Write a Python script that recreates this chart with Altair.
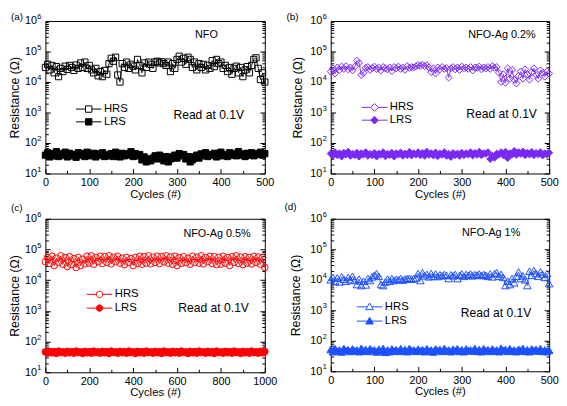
import altair as alt
import pandas as pd

FONT = "Liberation Sans"

# ---------------- data ----------------
cycles_500 = list(range(0, 501, 5))
cycles_1000 = list(range(0, 1001, 10))

hrs_a = [30000, 38000, 25000, 35000, 20000, 32000, 15000, 28000, 22000, 33000,
         26000, 35000, 30000, 24000, 36000, 28000, 42000, 30000, 45000, 28000,
         35000, 25000, 20000, 28000, 16000, 22000, 15000, 24000, 18000, 40000,
         60000, 48000, 65000, 17000, 10000, 40000, 30000, 45000, 28000, 38000,
         33000, 25000, 55000, 35000, 20000, 42000, 30000, 45000, 38000, 28000,
         45000, 48000, 42000, 46000, 40000, 35000, 45000, 22000, 40000, 28000,
         55000, 70000, 45000, 60000, 38000, 65000, 55000, 30000, 45000, 25000,
         40000, 30000, 38000, 25000, 35000, 28000, 50000, 32000, 55000, 40000,
         45000, 28000, 35000, 22000, 30000, 18000, 28000, 33000, 20000, 30000,
         15000, 25000, 32000, 20000, 35000, 55000, 62000, 28000, 12000, 20000,
         10000]
lrs_a = [40, 48, 35, 45, 38, 52, 36, 44, 40, 50,
         35, 46, 38, 42, 34, 48, 40, 45, 36, 50,
         42, 38, 46, 35, 44, 40, 48, 36, 42, 38,
         45, 36, 50, 40, 35, 46, 38, 44, 40, 52,
         36, 45, 38, 42, 28, 35, 24, 30, 26, 32,
         38, 30, 40, 34, 26, 36, 24, 30, 35, 40,
         32, 45, 38, 42, 30, 36, 24, 28, 35, 40,
         32, 44, 38, 48, 36, 42, 40, 46, 35, 44,
         50, 38, 42, 36, 48, 40, 45, 38, 52, 40,
         44, 36, 46, 40, 48, 38, 44, 42, 50, 40,
         45]

hrs_b = [22000, 28000, 19000, 30000, 25000, 32000, 27000, 33000, 26000, 30000,
         24000, 32000, 50000, 42000, 17000, 20000, 29000, 31000, 25000, 29000,
         32000, 27000, 30000, 24000, 31000, 28000, 26000, 30000, 23000, 31000,
         28000, 32000, 27000, 30000, 25000, 33000, 29000, 31000, 30000, 33000,
         36000, 34000, 37000, 33000, 35000, 30000, 21000, 28000, 19000, 30000,
         26000, 31000, 27000, 29000, 14000, 28000, 31000, 26000, 30000, 25000,
         32000, 28000, 30000, 27000, 31000, 24000, 30000, 29000, 32000, 26000,
         30000, 28000, 31000, 27000, 33000, 29000, 31000, 20000, 10000, 18000,
         9500, 28000, 13000, 25000, 12000, 9000, 16000, 22000, 13000, 26000,
         18000, 12000, 21000, 28000, 17000, 13000, 24000, 20000, 15000, 22000,
         19000]
lrs_b = [45, 38, 50, 40, 46, 36, 48, 42, 52, 38, 44, 40, 48, 36, 46, 42, 50, 38, 44, 40,
         47, 36, 45, 41, 50, 37, 44, 40, 48, 36, 46, 42, 49, 38, 45, 40, 51, 39, 46, 42,
         50, 40, 47, 38, 52, 41, 46, 39, 49, 37, 45, 41, 50, 38, 44, 35, 47, 40, 45, 38,
         48, 40, 46, 42, 50, 39, 47, 41, 52, 40, 46, 44, 50, 30, 38, 33, 45, 42, 50, 40,
         52, 32, 46, 42, 55, 41, 50, 44, 53, 40, 48, 42, 51, 40, 47, 43, 50, 39, 46, 42,
         48]

hrs_c = [40000, 55000, 35000, 60000, 30000, 52000, 38000, 62000, 33000, 55000,
         28000, 58000, 32000, 50000, 26000, 55000, 30000, 48000, 34000, 60000,
         36000, 62000, 33000, 55000, 40000, 60000, 35000, 58000, 38000, 62000,
         34000, 56000, 40000, 60000, 36000, 52000, 32000, 55000, 38000, 50000,
         30000, 55000, 35000, 60000, 33000, 58000, 36000, 62000, 34000, 56000,
         38000, 60000, 35000, 58000, 40000, 62000, 36000, 57000, 33000, 60000,
         30000, 55000, 35000, 58000, 37000, 52000, 33000, 60000, 38000, 56000,
         36000, 62000, 34000, 55000, 40000, 60000, 35000, 58000, 32000, 55000,
         33000, 60000, 36000, 55000, 30000, 58000, 38000, 62000, 35000, 56000,
         32000, 58000, 36000, 55000, 34000, 60000, 38000, 57000, 33000, 55000,
         26000]
lrs_c = [46, 42, 48, 43, 47, 41, 49, 44, 46, 42,
         48, 43, 47, 42, 49, 44, 46, 41, 48, 43,
         47, 42, 49, 44, 46, 42, 48, 43, 47, 41,
         49, 44, 46, 42, 48, 43, 47, 42, 49, 44,
         46, 41, 48, 43, 47, 42, 49, 44, 46, 42,
         48, 43, 47, 41, 49, 44, 46, 42, 48, 43,
         47, 42, 49, 44, 46, 41, 48, 43, 47, 42,
         49, 44, 46, 42, 48, 43, 47, 41, 49, 44,
         46, 42, 48, 43, 47, 42, 49, 44, 46, 41,
         48, 43, 47, 42, 49, 44, 46, 42, 48, 43,
         47]

hrs_d = [10000, 12000, 9000, 11500, 8500, 12500, 10500, 9000, 12000, 10000,
         13000, 9500, 7000, 10500, 6500, 9000, 6800, 11000, 9500, 12500,
         14000, 16000, 13000, 7000, 6500, 8500, 10500, 9000, 11000, 9500,
         10500, 10000, 11000, 9800, 10500, 10800, 11200, 10500, 11000, 11500,
         16000, 9500, 17000, 13500, 15000, 12500, 16000, 13000, 15500, 12800,
         14500, 13500, 15000, 14000, 11000, 14500, 13500, 15000, 11000, 14000,
         15500, 13000, 15000, 14000, 15500, 13500, 14800, 14200, 15500, 13800,
         15000, 14000, 13000, 15500, 12500, 16000, 17000, 13000, 15000, 12000,
         6500, 9000, 7000, 11000, 8000, 13000, 18000, 11000, 13500, 10000,
         6500, 19000, 14000, 20000, 16000, 13000, 18000, 15000, 12000, 16000,
         7500]
lrs_d = [52, 44, 55, 46, 50, 43, 56, 48, 51, 45,
         54, 47, 50, 44, 57, 46, 52, 45, 55, 48,
         50, 43, 53, 46, 56, 42, 50, 44, 54, 47,
         51, 45, 55, 46, 52, 44, 56, 48, 50, 45,
         53, 47, 51, 44, 55, 46, 50, 43, 54, 48,
         52, 45, 56, 46, 50, 44, 53, 47, 55, 45,
         51, 44, 54, 48, 50, 46, 56, 45, 52, 44,
         55, 47, 51, 45, 54, 46, 50, 44, 57, 48,
         52, 45, 55, 46, 50, 44, 53, 47, 56, 45,
         51, 44, 54, 48, 52, 46, 55, 45, 50, 44,
         49]

series_names = ["HRS", "LRS"]
panel_names = ["NFO", "NFO-Ag 0.2%", "NFO-Ag 0.5%", "NFO-Ag 1%"]
panel_tags = ["(a)", "(b)", "(c)", "(d)"]
read_note = "Read at 0.1V"
x_title = "Cycles (#)"
y_title = "Resistance (Ω)"
ticks_500 = [0, 100, 200, 300, 400, 500]
minor_500 = [50, 150, 250, 350, 450]
ticks_1000 = [0, 200, 400, 600, 800, 1000]
minor_1000 = [100, 300, 500, 700, 900]
decades = [1e1, 1e2, 1e3, 1e4, 1e5, 1e6]
minor_y = [m * d for d in [1e1, 1e2, 1e3, 1e4, 1e5] for m in range(2, 10)]

# legend symbols: line - marker - line
LEG_SQUARE = "M-2,0H-0.5M0.5,0H2M-0.5,-0.5H0.5V0.5H-0.5Z"
LEG_DIAMOND = "M-2,0H-0.6M0.6,0H2M0,-0.6L0.6,0L0,0.6L-0.6,0Z"
LEG_CIRCLE = "M-2,0H-0.5M0.5,0H2M-0.5,0A0.5,0.5,0,1,1,0.5,0A0.5,0.5,0,1,1,-0.5,0Z"
LEG_TRIANGLE = "M-2,0H-0.34M0.34,0H2M0,-0.6L0.6,0.45L-0.6,0.45Z"


def make_df(cycles, hrs, lrs):
    assert len(cycles) == len(hrs) == len(lrs)
    return pd.DataFrame({
        "cycle": list(cycles) + list(cycles),
        "value": list(hrs) + list(lrs),
        "series": [series_names[0]] * len(hrs) + [series_names[1]] * len(lrs),
    })


def tick_axis(orient, values, size):
    return alt.Axis(orient=orient, values=values, labels=False, domain=False,
                    grid=False, title=None, ticks=True,
                    tickSize={"expr": str(-size)}, tickColor="black", tickWidth=1)


def text_layer(txt, x, y, size, align="center"):
    return alt.Chart(alt.Data(values=[{}])).mark_text(
        text=txt, fontSize=size, font=FONT, align=align, baseline="middle",
        color="black").encode(x=alt.value(x), y=alt.value(y))


def make_panel(df, color, shape, msize, leg_path, xmax, xmajor, xminor,
               name, name_xy, read_xy, leg_xy, row_pad, tag, tag_xy,
               width, height, ytitle_pad):
    xs = alt.Scale(domain=[0, xmax], nice=False, zero=False)
    ys = alt.Scale(type="log", domain=[10, 1e6], nice=False)
    base = alt.Chart(df)

    def X(axis):
        return alt.X("cycle:Q", scale=xs, axis=axis)

    def Y(axis):
        return alt.Y("value:Q", scale=ys, axis=axis)

    lines = base.mark_line(color=color, strokeWidth=0.9).encode(
        x=X(alt.Axis(orient="bottom", values=xmajor, format="d", ticks=False,
                     domain=False, grid=False, labelFlush=False, labelOverlap=False,
                     labelPadding=3, labelFontSize=11, title=x_title,
                     titleFontSize=11.5, titleFontWeight="normal", titlePadding=1)),
        y=Y(alt.Axis(orient="left", values=decades, labelExpr="'10'", ticks=False,
                     domain=False, grid=False, labelFlush=False, labelOverlap=False,
                     labelPadding=9, labelFontSize=11, title=y_title,
                     titleFontSize=12.5, titleFontWeight="normal",
                     titlePadding=ytitle_pad)),
        detail="series:N",
    )
    points = base.mark_point(shape=shape, size=msize, filled=False, stroke=color,
                             strokeWidth=1, opacity=1).encode(
        x=X(tick_axis("bottom", xmajor, 5)),
        y=Y(tick_axis("left", decades, 5)),
        fill=alt.Fill("series:N",
                      scale=alt.Scale(domain=series_names, range=["transparent", color]),
                      legend=alt.Legend(title=None, orient="none",
                                        legendX=leg_xy[0], legendY=leg_xy[1],
                                        symbolType=leg_path, symbolSize=169,
                                        symbolStrokeWidth=1, symbolStrokeColor=color,
                                        labelFontSize=11.5, labelFont=FONT,
                                        labelColor="black", labelOffset=8.5,
                                        rowPadding=row_pad, padding=0)),
    )
    g1 = base.mark_point(opacity=0).encode(
        x=X(tick_axis("bottom", xminor, 3)), y=Y(tick_axis("left", minor_y, 3)))
    g2 = base.mark_point(opacity=0).encode(
        x=X(None), y=Y(tick_axis("right", decades, 5)))
    g3 = base.mark_point(opacity=0).encode(
        x=X(None), y=Y(tick_axis("right", minor_y, 3)))
    g4 = base.mark_point(opacity=0).encode(
        x=X(None),
        y=Y(alt.Axis(orient="left", values=decades,
                     labelExpr="'' + round(log(datum.value) / LN10)",
                     ticks=False, domain=False, grid=False, labelFlush=False,
                     labelOverlap=False, labelPadding=4.5, labelFontSize=7.5,
                     labelOffset=-4.5, title=None)))
    t1 = text_layer(name, name_xy[0], name_xy[1], 11)
    t2 = text_layer(read_note, read_xy[0], read_xy[1], 12.3)
    t3 = text_layer(tag, tag_xy[0], tag_xy[1], 10, align="left")
    return alt.layer(lines, points, g1, g2, g3, g4, t1, t2, t3).resolve_axis(
        x="independent", y="independent").properties(width=width, height=height)


pa = make_panel(make_df(cycles_500, hrs_a, lrs_a), "#000000", "square", 40, LEG_SQUARE,
                500, ticks_500, minor_500, panel_names[0], (163.7, 14.7), (166, 96),
                (37, 82.5), 0, panel_tags[0], (-35, -4.5), 223, 155, 3)
pb = make_panel(make_df(cycles_500, hrs_b, lrs_b), "#7A28F5", "diamond", 50, LEG_DIAMOND,
                500, ticks_500, minor_500, panel_names[1], (174, 14.7), (173.7, 94.7),
                (37.5, 80.8), 0, panel_tags[1], (-45, -4.5), 222, 155, 5)
pc = make_panel(make_df(cycles_1000, hrs_c, lrs_c), "#FF0000", "circle", 45, LEG_CIRCLE,
                1000, ticks_1000, minor_1000, panel_names[2], (174.5, 15.3), (171, 90.3),
                (48, 69.8), 1, panel_tags[2], (-35, -10.5), 223, 156, 3)
pd_ = make_panel(make_df(cycles_500, hrs_d, lrs_d), "#1F50FF", "triangle-up", 60, LEG_TRIANGLE,
                 500, ticks_500, minor_500, panel_names[3], (163, 14.3), (168, 96),
                 (32.5, 82.5), 1.5, panel_tags[3], (-47, -11.5), 222, 155, 7)

chart = alt.concat(pa, pb, pc, pd_, columns=2,
                   spacing={"row": 46, "column": 67}, bounds="flush").resolve_scale(
    fill="independent"
).resolve_legend(fill="independent").properties(
    padding=0
).configure_view(stroke="black", strokeWidth=1).configure_axis(
    labelFont=FONT, titleFont=FONT, labelColor="black", titleColor="black"
).configure_legend(labelFont=FONT)

chart.save("out.html", embed_options={"renderer": "svg", "actions": False})
